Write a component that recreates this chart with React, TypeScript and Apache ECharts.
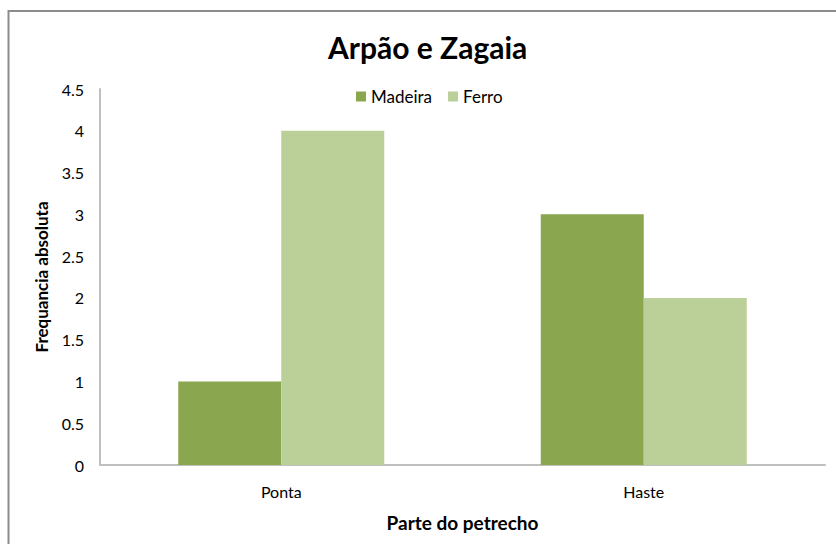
import React, { useEffect, useRef } from "react";
import * as echarts from "echarts";

const categories = ["Ponta", "Haste"];
const madeira = [1, 3];
const ferro = [4, 2];
const seriesNames = ["Madeira", "Ferro"];
const titleText = "Arpão e Zagaia";
const xName = "Parte do petrecho";
const yName = "Frequancia absoluta";

const FONT = "Lato, 'Open Sans', sans-serif";

export default function App() {
  const ref = useRef<HTMLDivElement>(null);
  useEffect(() => {
    document.body.style.margin = "0";
    const chart = echarts.init(ref.current!, null, { renderer: "svg" });
    chart.setOption({
      animation: false,
      backgroundColor: "#ffffff",
      textStyle: { fontFamily: FONT },
      graphic: [
        {
          type: "rect",
          shape: { x: 8.5, y: 11, width: 900, height: 600 },
          style: { fill: "none", stroke: "#8c8c8c", lineWidth: 2 },
          silent: true,
        },
      ],
      title: {
        text: titleText,
        left: 323,
        top: 27,
        textStyle: { fontFamily: FONT, fontSize: 30, fontWeight: "bold", color: "#000" },
      },
      legend: {
        top: 83,
        left: 351,
        itemWidth: 10,
        itemHeight: 10,
        itemGap: 16,
        icon: "rect",
        textStyle: { fontFamily: FONT, fontSize: 17, color: "#000" },
        data: seriesNames,
      },
      grid: { left: 100, right: 11, top: 89, bottom: 79 },
      xAxis: {
        type: "category",
        data: categories,
        axisLine: { lineStyle: { color: "#bfbfbf", width: 2 } },
        axisTick: { show: false },
        axisLabel: { fontFamily: FONT, fontSize: 16, color: "#000", margin: 18 },
        name: xName,
        nameLocation: "middle",
        nameGap: 48,
        nameTextStyle: { fontFamily: FONT, fontSize: 19, fontWeight: "bold", color: "#000" },
      },
      yAxis: {
        type: "value",
        min: 0,
        max: 4.5,
        interval: 0.5,
        splitLine: { show: false },
        axisLine: { show: true, lineStyle: { color: "#bfbfbf", width: 2 } },
        axisTick: { show: false },
        axisLabel: { fontFamily: FONT, fontSize: 16, color: "#000", margin: 16 },
        name: yName,
        nameLocation: "middle",
        nameGap: 50,
        nameTextStyle: { fontFamily: FONT, fontSize: 17, fontWeight: "bold", color: "#000" },
      },
      series: [
        {
          name: seriesNames[0],
          type: "bar",
          data: madeira,
          barWidth: 103,
          barGap: "0%",
          itemStyle: { color: "#8aa64f" },
        },
        {
          name: seriesNames[1],
          type: "bar",
          data: ferro,
          barWidth: 103,
          barGap: "0%",
          itemStyle: { color: "#bbcf98" },
        },
      ],
    });
    return () => chart.dispose();
  }, []);
  return (
    <div
      ref={ref}
      style={{ position: "fixed", left: 0, top: 0, width: 836, height: 544 }}
    />
  );
}
